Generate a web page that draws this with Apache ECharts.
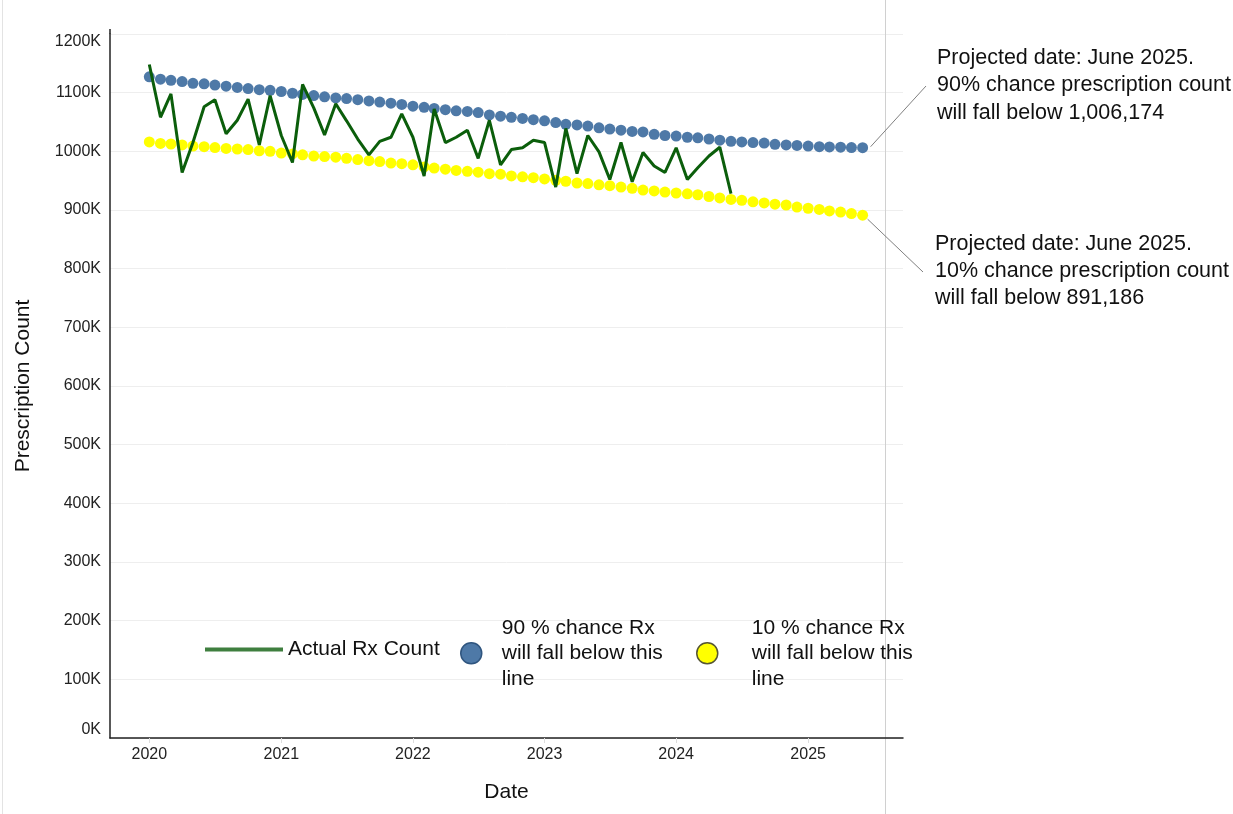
<!DOCTYPE html>
<html><head><meta charset="utf-8">
<script src="https://cdn.jsdelivr.net/npm/echarts@6/dist/echarts.min.js"></script>
<style>html,body{margin:0;padding:0;background:#fff}#chart{width:1233px;height:814px}</style>
</head><body><div id="chart"></div>
<script>
// ---- data (values in thousands of prescriptions, one per month from Jan 2020) ----
const startYear = 2020;
const actualRx = [
  1148, 1058, 1098, 964, 1015, 1076, 1088, 1030, 1053, 1089,
  1011, 1095, 1027, 981, 1114, 1074, 1028, 1081, 1052, 1021,
  994, 1017, 1024, 1064, 1024, 958, 1072, 1015, 1024, 1036,
  988, 1053, 977, 1003, 1006, 1019, 1015, 939, 1039, 962,
  1027, 999, 952, 1015, 948, 998, 975, 964, 1006, 952,
  972, 992, 1007, 928
];
const upper90 = [
  1127, 1123, 1121, 1119, 1116, 1115, 1113, 1111, 1109, 1107,
  1105, 1104, 1102, 1099, 1097, 1095, 1093, 1091, 1090, 1088,
  1086, 1084, 1082, 1080, 1077, 1075, 1073, 1071, 1069, 1068,
  1066, 1062, 1060, 1058, 1056, 1054, 1052, 1049, 1046, 1045,
  1043, 1040, 1038, 1036, 1034, 1033, 1029, 1027, 1026, 1024,
  1023, 1021, 1019, 1017, 1016, 1015, 1014, 1012, 1011, 1010,
  1009, 1008, 1007.5, 1007, 1006.5, 1006.174
];
const lower10 = [
  1016, 1013.5, 1012.5, 1011, 1009, 1008, 1006.5, 1005, 1004, 1003,
  1001, 1000, 997, 995.5, 994, 992, 991, 990, 988, 986,
  984, 982.5, 980, 979, 977, 973.5, 971.5, 969.5, 967.5, 966,
  964.5, 962, 961, 958, 956.5, 955, 953, 950.5, 949, 946,
  945, 943, 941.5, 939, 937, 934, 932.5, 930.5, 929, 927.5,
  926, 923, 920.5, 918, 916.5, 914, 912, 910, 908.5, 905,
  903, 901, 898.5, 896.5, 894, 891.186
];
const seriesNames = [
  'Actual Rx Count',
  '90 % chance Rx\nwill fall below this\nline',
  '10 % chance Rx\nwill fall below this\nline'
];
const annotations = [
  'Projected date: June 2025.\n90% chance prescription count\nwill fall below 1,006,174',
  'Projected date: June 2025.\n10% chance prescription count\nwill fall below 891,186'
];

// ---- chart ----
const DAY = 86400000;
const dates = upper90.map((_, i) => new Date(startYear, i, 1).getTime());
const base = new Date(startYear, 0, 1).getTime();
const xMin = base - 109 * DAY;
const xMax = base + 2090 * DAY;
const FONT = '"Liberation Sans", Arial, sans-serif';

const chart = echarts.init(document.getElementById('chart'), null, {renderer: 'canvas'});
const option = {
  animation: false,
  backgroundColor: '#ffffff',
  textStyle: {fontFamily: FONT},
  grid: {left: 110, right: 330, top: 34, bottom: 76},
  xAxis: {
    type: 'time', min: xMin, max: xMax, splitNumber: 6,
    minInterval: 365 * DAY, maxInterval: 366 * DAY,
    name: 'Date', nameLocation: 'middle', nameGap: 44,
    nameTextStyle: {fontSize: 21, color: '#111', fontFamily: FONT},
    axisLine: {lineStyle: {color: '#222', width: 1.5}},
    axisTick: {show: true, length: 5, lineStyle: {color: '#dddddd'}},
    axisLabel: {fontSize: 16, color: '#222', margin: 9, showMinLabel: false, showMaxLabel: false,
      fontFamily: FONT,
      formatter: v => String(new Date(v).getFullYear())},
    splitLine: {show: false}
  },
  yAxis: {
    type: 'value', min: 0, max: 1200, interval: 100,
    name: 'Prescription Count', nameLocation: 'middle', nameGap: 76, nameRotate: 90,
    nameTextStyle: {fontSize: 21, color: '#111', fontFamily: FONT},
    axisLine: {show: true, lineStyle: {color: '#222', width: 1.5}},
    axisTick: {show: false},
    axisLabel: {fontSize: 16, color: '#222', margin: 9, fontFamily: FONT,
      verticalAlignMinLabel: 'bottom', verticalAlignMaxLabel: 'top',
      formatter: v => v + 'K'},
    splitLine: {lineStyle: {color: '#eeeeee'}}
  },
  legend: [
    {data: [{name: seriesNames[0], icon: 'rect', itemStyle: {color: '#3F7F3F'}}],
     left: 205, top: 637, padding: 0, itemWidth: 78, itemHeight: 4, selectedMode: false,
     textStyle: {fontSize: 21, color: '#111', lineHeight: 25, fontFamily: FONT}},
    {data: [{name: seriesNames[1], icon: 'circle', itemStyle: {color: '#4E79A7', borderColor: '#2F557F', borderWidth: 1.5}}],
     left: 460, top: 615, padding: 0, itemWidth: 21, itemHeight: 21, selectedMode: false,
     textStyle: {fontSize: 21, color: '#111', lineHeight: 25.5, padding: [0, 0, 0, 15], fontFamily: FONT}},
    {data: [{name: seriesNames[2], icon: 'circle', itemStyle: {color: '#FFFF00', borderColor: '#555533', borderWidth: 1.5}}],
     left: 696, top: 615, padding: 0, itemWidth: 21, itemHeight: 21, selectedMode: false,
     textStyle: {fontSize: 21, color: '#111', lineHeight: 25.5, padding: [0, 0, 0, 29], fontFamily: FONT}}
  ],
  series: [
    {name: seriesNames[1], type: 'scatter', data: dates.map((d, i) => [d, upper90[i]]),
     symbolSize: 11, itemStyle: {color: '#4E79A7', opacity: 1}, z: 2},
    {name: seriesNames[2], type: 'scatter', data: dates.map((d, i) => [d, lower10[i]]),
     symbolSize: 11, itemStyle: {color: '#FFFF00', opacity: 1}, z: 2},
    {name: seriesNames[0], type: 'line', data: actualRx.map((v, i) => [dates[i], v]),
     showSymbol: false, symbol: 'none', lineStyle: {color: '#0B5E0B', width: 3},
     itemStyle: {color: '#0B5E0B'}, z: 3}
  ]
};
chart.setOption(option);

const last = upper90.length - 1;
const pU = chart.convertToPixel({gridIndex: 0}, [dates[last], upper90[last]]);
const pL = chart.convertToPixel({gridIndex: 0}, [dates[last], lower10[last]]);
chart.setOption({
  graphic: [
    {type: 'line', silent: true, shape: {x1: 885.5, y1: 0, x2: 885.5, y2: 814}, style: {stroke: '#d0d0d0', lineWidth: 1}},
    {type: 'line', silent: true, shape: {x1: 2.5, y1: 0, x2: 2.5, y2: 814}, style: {stroke: '#e3e3e3', lineWidth: 1}},
    {type: 'line', silent: true, shape: {x1: 110, y1: 29, x2: 110, y2: 34}, style: {stroke: '#222', lineWidth: 1.5}},
    {type: 'line', silent: true, shape: {x1: pU[0] + 8, y1: pU[1] - 1, x2: 926, y2: 86}, style: {stroke: '#808080', lineWidth: 1}},
    {type: 'line', silent: true, shape: {x1: pL[0] + 5, y1: pL[1] + 4, x2: 923, y2: 272}, style: {stroke: '#808080', lineWidth: 1}},
    {type: 'text', silent: true, left: 937, top: 44,
     style: {text: annotations[0], fontSize: 21.5, fontFamily: FONT, fill: '#111', lineHeight: 27.5}},
    {type: 'text', silent: true, left: 935, top: 231,
     style: {text: annotations[1], fontSize: 21.5, fontFamily: FONT, fill: '#111', lineHeight: 27}}
  ]
});
</script>
</body></html>
